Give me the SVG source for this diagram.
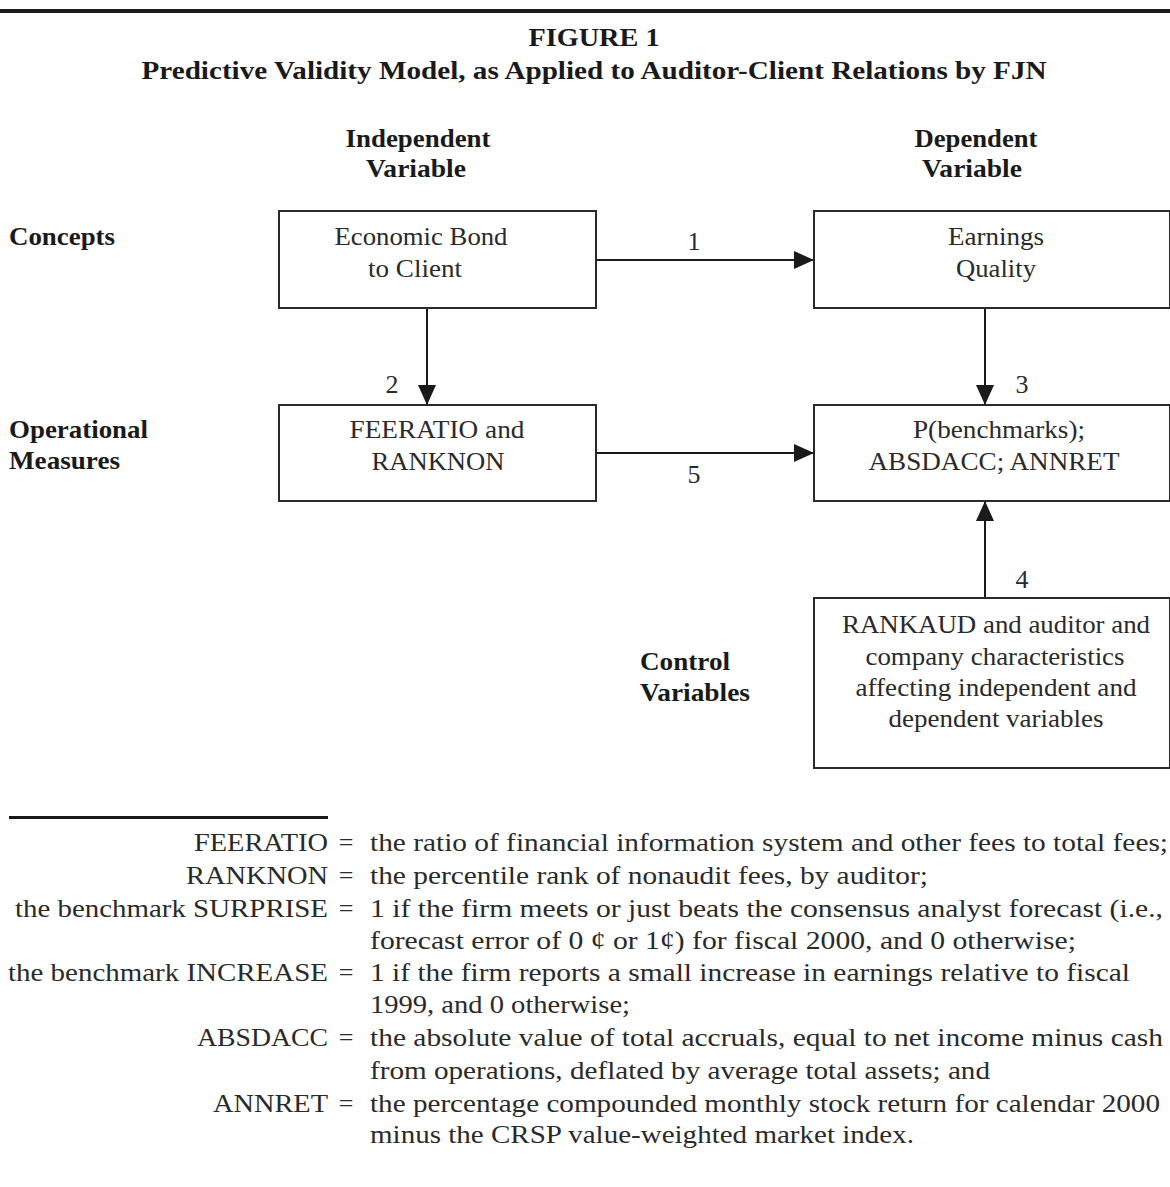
<svg xmlns="http://www.w3.org/2000/svg" width="1170" height="1187" viewBox="0 0 1170 1187">
<style>
.t{font-family:"Liberation Serif","Times New Roman",serif;fill:#2a2a2a;font-size:26px}
.b{font-family:"Liberation Serif","Times New Roman",serif;fill:#1a1a1a;font-size:25px;font-weight:bold}
.c{text-anchor:middle}
.r{text-anchor:end}
.box{fill:#fff;stroke:#2a2a2a;stroke-width:2}
.ln{stroke:#1a1a1a;stroke-width:2;fill:none}
</style>
<defs>
<marker id="ah" viewBox="0 0 20 18" refX="20" refY="9" markerWidth="20" markerHeight="18" markerUnits="userSpaceOnUse" orient="auto">
<path d="M0,0 L20,9 L0,18 Z" fill="#1a1a1a"/>
</marker>
</defs>
<rect width="1170" height="1187" fill="#fff"/>
<rect x="0" y="9" width="1170" height="4" fill="#1a1a1a"/>
<text class="b c" x="594" y="46" textLength="131" lengthAdjust="spacingAndGlyphs">FIGURE 1</text>
<text class="b c" x="594" y="79" textLength="905" lengthAdjust="spacingAndGlyphs">Predictive Validity Model, as Applied to Auditor-Client Relations by FJN</text>
<text class="b c" x="418" y="147" textLength="145" lengthAdjust="spacingAndGlyphs">Independent</text>
<text class="b c" x="416" y="177" textLength="100" lengthAdjust="spacingAndGlyphs">Variable</text>
<text class="b c" x="976" y="147" textLength="123" lengthAdjust="spacingAndGlyphs">Dependent</text>
<text class="b c" x="972" y="177" textLength="100" lengthAdjust="spacingAndGlyphs">Variable</text>
<text class="b" x="9" y="245" textLength="106" lengthAdjust="spacingAndGlyphs">Concepts</text>
<text class="b" x="9" y="438" textLength="139" lengthAdjust="spacingAndGlyphs">Operational</text>
<text class="b" x="9" y="469" textLength="111" lengthAdjust="spacingAndGlyphs">Measures</text>
<text class="b" x="640" y="670" textLength="90" lengthAdjust="spacingAndGlyphs">Control</text>
<text class="b" x="640" y="701" textLength="110" lengthAdjust="spacingAndGlyphs">Variables</text>
<g id="connectors">
<line class="ln" x1="596" y1="260" x2="814" y2="260" marker-end="url(#ah)"/>
<line class="ln" x1="427" y1="308" x2="427" y2="405" marker-end="url(#ah)"/>
<line class="ln" x1="985" y1="308" x2="985" y2="405" marker-end="url(#ah)"/>
<line class="ln" x1="596" y1="453" x2="814" y2="453" marker-end="url(#ah)"/>
<line class="ln" x1="985" y1="598" x2="985" y2="501" marker-end="url(#ah)"/>
<text class="t c" x="694" y="250">1</text>
<text class="t c" x="392" y="393">2</text>
<text class="t c" x="1022" y="393">3</text>
<text class="t c" x="1022" y="588">4</text>
<text class="t c" x="694" y="483">5</text>
</g>
<g id="n-econ">
<rect class="box" x="279" y="211" width="317" height="97"/>
<text class="t c" x="421" y="245" textLength="173" lengthAdjust="spacingAndGlyphs">Economic Bond</text>
<text class="t c" x="415" y="277" textLength="94" lengthAdjust="spacingAndGlyphs">to Client</text>
</g>
<g id="n-earn">
<rect class="box" x="814" y="211" width="356" height="97"/>
<text class="t c" x="996" y="245" textLength="96" lengthAdjust="spacingAndGlyphs">Earnings</text>
<text class="t c" x="996" y="277" textLength="80" lengthAdjust="spacingAndGlyphs">Quality</text>
</g>
<g id="n-fee">
<rect class="box" x="279" y="405" width="317" height="96"/>
<text class="t c" x="437" y="438" textLength="175" lengthAdjust="spacingAndGlyphs">FEERATIO and</text>
<text class="t c" x="438" y="470" textLength="133" lengthAdjust="spacingAndGlyphs">RANKNON</text>
</g>
<g id="n-bench">
<rect class="box" x="814" y="405" width="356" height="96"/>
<text class="t c" x="999" y="438" textLength="172" lengthAdjust="spacingAndGlyphs">P(benchmarks);</text>
<text class="t c" x="994" y="470" textLength="251" lengthAdjust="spacingAndGlyphs">ABSDACC; ANNRET</text>
</g>
<g id="n-ctrl">
<rect class="box" x="814" y="598" width="356" height="170"/>
<text class="t c" x="996" y="633" textLength="308" lengthAdjust="spacingAndGlyphs">RANKAUD and auditor and</text>
<text class="t c" x="995" y="665" textLength="259" lengthAdjust="spacingAndGlyphs">company characteristics</text>
<text class="t c" x="996" y="696" textLength="281" lengthAdjust="spacingAndGlyphs">affecting independent and</text>
<text class="t c" x="996" y="727" textLength="215" lengthAdjust="spacingAndGlyphs">dependent variables</text>
</g>
<g id="legend">
<rect x="9" y="816" width="319" height="3" fill="#1a1a1a"/>
<text class="t r" x="328" y="851" textLength="134" lengthAdjust="spacingAndGlyphs">FEERATIO</text>
<text class="t r" x="328" y="884" textLength="142" lengthAdjust="spacingAndGlyphs">RANKNON</text>
<text class="t r" x="328" y="917" textLength="313" lengthAdjust="spacingAndGlyphs">the benchmark SURPRISE</text>
<text class="t r" x="328" y="981" textLength="320" lengthAdjust="spacingAndGlyphs">the benchmark INCREASE</text>
<text class="t r" x="328" y="1046" textLength="131" lengthAdjust="spacingAndGlyphs">ABSDACC</text>
<text class="t r" x="328" y="1112" textLength="115" lengthAdjust="spacingAndGlyphs">ANNRET</text>
<text class="t c" x="346" y="851">=</text>
<text class="t c" x="346" y="884">=</text>
<text class="t c" x="346" y="917">=</text>
<text class="t c" x="346" y="981">=</text>
<text class="t c" x="346" y="1046">=</text>
<text class="t c" x="346" y="1112">=</text>
<text class="t" x="370" y="851" textLength="798" lengthAdjust="spacingAndGlyphs">the ratio of financial information system and other fees to total fees;</text>
<text class="t" x="370" y="884" textLength="558" lengthAdjust="spacingAndGlyphs">the percentile rank of nonaudit fees, by auditor;</text>
<text class="t" x="370" y="917" textLength="793" lengthAdjust="spacingAndGlyphs">1 if the firm meets or just beats the consensus analyst forecast (i.e.,</text>
<text class="t" x="370" y="949" textLength="706" lengthAdjust="spacingAndGlyphs">forecast error of 0 ¢ or 1¢) for fiscal 2000, and 0 otherwise;</text>
<text class="t" x="370" y="981" textLength="760" lengthAdjust="spacingAndGlyphs">1 if the firm reports a small increase in earnings relative to fiscal</text>
<text class="t" x="370" y="1013" textLength="260" lengthAdjust="spacingAndGlyphs">1999, and 0 otherwise;</text>
<text class="t" x="370" y="1046" textLength="793" lengthAdjust="spacingAndGlyphs">the absolute value of total accruals, equal to net income minus cash</text>
<text class="t" x="370" y="1079" textLength="620" lengthAdjust="spacingAndGlyphs">from operations, deflated by average total assets; and</text>
<text class="t" x="370" y="1112" textLength="790" lengthAdjust="spacingAndGlyphs">the percentage compounded monthly stock return for calendar 2000</text>
<text class="t" x="370" y="1143" textLength="544" lengthAdjust="spacingAndGlyphs">minus the CRSP value-weighted market index.</text>
</g>
</svg>
